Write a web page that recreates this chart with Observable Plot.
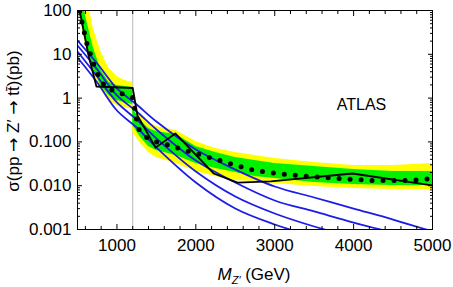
<!DOCTYPE html>
<html><head><meta charset="utf-8">
<script src="https://cdn.jsdelivr.net/npm/d3@7"></script>
<script src="https://cdn.jsdelivr.net/npm/@observablehq/plot@0.6"></script>
<style>body{margin:0;background:#fff}</style>
</head><body><div id="chart"></div>
<script>
// Expected-limit bands (pb)
const bandMass = [500, 600, 700, 800, 900, 1000, 1100, 1200, 1200, 1300, 1400, 1500, 1750, 2000, 2250, 2500, 2750, 3000, 3500, 4000, 4500, 5000];
const yellowHi = [2344, 318, 38.8, 11.0, 4.74, 3.11, 2.52, 2.27, 0.678, 0.401, 0.277, 0.225, 0.182, 0.102, 0.0707, 0.0573, 0.0489, 0.0418, 0.0339, 0.0289, 0.0289, 0.0321];
const greenHi  = [819, 76.9, 14.3, 4.27, 2.27, 1.94, 1.84, 1.75, 0.579, 0.308, 0.202, 0.173, 0.148, 0.0785, 0.0573, 0.0440, 0.0376, 0.0321, 0.0274, 0.0234, 0.0211, 0.0211];
const greenLo  = [144, 20.7, 4.74, 1.84, 1.15, 0.882, 0.794, 0.714, 0.237, 0.126, 0.0785, 0.0637, 0.0489, 0.0321, 0.0247, 0.0200, 0.0162, 0.0146, 0.0118, 0.0106, 0.0101, 0.0101];
const yellowLo = [123, 16.7, 3.64, 1.49, 0.882, 0.678, 0.610, 0.549, 0.164, 0.0919, 0.0573, 0.0440, 0.0321, 0.0211, 0.0162, 0.0132, 0.0125, 0.0112, 0.0096, 0.0086, 0.0082, 0.0082];

// Expected limit (dotted)
const expectedMass = [500, 525, 615, 730, 855, 1020, 1200, 1270, 1390, 1515, 1680, 1830, 2175, 2475, 2745, 3020, 3440, 3820, 4240, 4710, 5000];
const expectedXs   = [170, 100, 18.6, 4.27, 1.75, 1.34, 1.03, 0.20, 0.12, 0.097, 0.083, 0.067, 0.044, 0.0305, 0.0222, 0.019, 0.0162, 0.0146, 0.0131, 0.0131, 0.0146];

// Observed limit (solid black)
const observedMass = [505, 640, 740, 1200, 1260, 1490, 1740, 2225, 2530, 2950, 3985, 5000];
const observedXs   = [160, 9.4, 1.84, 1.70, 0.40, 0.074, 0.156, 0.019, 0.0118, 0.0125, 0.019, 0.0101];

// Theory curves (blue)
const blueMass = [500, 750, 1000, 1250, 1500, 2000, 2500, 3000, 3500, 4000, 4500, 5000];
const blue1 = [20.6, 6.17, 1.66, 0.714, 0.292, 0.0670, 0.0234, 0.0096, 0.00538, 0.00301, 0.00169, 0.00090];
const blue2 = [15.9, 4.50, 1.15, 0.494, 0.192, 0.0376, 0.0118, 0.00459, 0.00258, 0.00144, 0.00085];
const blue3 = [11.6, 3.11, 0.794, 0.324, 0.120, 0.0211, 0.00567, 0.00232, 0.00117, 0.00066];
const blue4 = [8.45, 2.27, 0.521, 0.213, 0.0745, 0.0118, 0.00301, 0.00130, 0.00069];

// Ticks
const xMajor = [1000, 2000, 3000, 4000, 5000];
const xMinor = d3.range(600, 5000, 200).filter(d => d % 1000 !== 0);
const yMajor = [100, 10, 1, 0.1, 0.01, 0.001];
const yTickLabels = ["100", "10", "1", "0.100", "0.010", "0.001"];
const yMinor = [0.001, 0.01, 0.1, 1, 10].flatMap(d => [2,3,4,5,6,7,8,9].map(k => +(k * d).toPrecision(3)));

const bands = bandMass.map((m, i) => ({m, yl: yellowLo[i], yh: yellowHi[i], gl: greenLo[i], gh: greenHi[i]}));
const expected = expectedMass.map((m, i) => ({m, v: expectedXs[i]}));
const observed = observedMass.map((m, i) => ({m, v: observedXs[i]}));
const blueTable = [blue1, blue2, blue3, blue4].flatMap((vals, s) => vals.map((v, i) => ({m: blueMass[i], v, s})));

const font = "'Liberation Sans', Arial, sans-serif";
const plot = Plot.plot({
  width: 453, height: 287,
  marginTop: 10, marginRight: 21, marginBottom: 58, marginLeft: 77,
  style: {fontFamily: font, fontSize: "17px", background: "white", color: "black"},
  x: {domain: [500, 5000], label: null},
  y: {type: "log", domain: [0.001, 100], label: null},
  marks: [
    Plot.ruleX([1200], {stroke: "#b8b8b8", strokeWidth: 1}),
    Plot.areaY(bands, {x: "m", y1: "yl", y2: "yh", fill: "#ffff00", clip: true}),
    Plot.areaY(bands, {x: "m", y1: "gl", y2: "gh", fill: "#00f000", clip: true}),
    Plot.line(blueTable, {x: "m", y: "v", z: "s", stroke: "#1c1ce8", strokeWidth: 1.8, curve: "catmull-rom", clip: true}),
    Plot.line(observed, {x: "m", y: "v", stroke: "black", strokeWidth: 1.8, clip: true}),
    Plot.line(expected, {x: "m", y: "v", stroke: "black", strokeWidth: 5, strokeDasharray: "0 11", strokeLinecap: "round", clip: true}),
    Plot.frame({stroke: "black", strokeWidth: 1}),
    // bottom
    Plot.axisX(xMajor, {anchor: "bottom", tickSize: 0, tickPadding: 9, tickFormat: d => String(d)}),
    Plot.axisX(xMajor, {anchor: "bottom", tickSize: -5, fill: "none"}),
    Plot.axisX(xMinor, {anchor: "bottom", tickSize: -3, fill: "none"}),
    // top
    Plot.axisX(xMajor, {anchor: "top", tickSize: -5, fill: "none"}),
    Plot.axisX(xMinor, {anchor: "top", tickSize: -3, fill: "none"}),
    // left
    Plot.axisY(yMajor, {anchor: "left", tickSize: 0, tickPadding: 6, tickFormat: d => yTickLabels[yMajor.indexOf(d)]}),
    Plot.axisY(yMajor, {anchor: "left", tickSize: -5, fill: "none"}),
    Plot.axisY(yMinor, {anchor: "left", tickSize: -3, fill: "none"}),
    // right
    Plot.axisY(yMajor, {anchor: "right", tickSize: -5, fill: "none"}),
    Plot.axisY(yMinor, {anchor: "right", tickSize: -3, fill: "none"}),
    Plot.text(["ATLAS"], {frameAnchor: "top-right", dx: -71, dy: 88, textAnchor: "middle", fontSize: 16, text: d => d})
  ]
});
document.getElementById("chart").appendChild(plot);

const svg = d3.select(plot);
// y-axis title
const yt = svg.append("text")
  .attr("transform", "translate(19,121) rotate(-90)")
  .attr("text-anchor", "middle")
  .attr("font-family", font).attr("font-size", 17).attr("fill", "black");
const arrow = "'DejaVu Sans', sans-serif";
yt.append("tspan").text("σ(pp ");
yt.append("tspan").attr("font-family", arrow).attr("font-size", 17).text("→");
yt.append("tspan").text(" Z′ ");
yt.append("tspan").attr("font-family", arrow).attr("font-size", 17).text("→");
yt.append("tspan").text(" tt\u0304)(pb)");
// x-axis title
const xt = svg.append("text")
  .attr("x", 254).attr("y", 280)
  .attr("text-anchor", "middle")
  .attr("font-family", font).attr("font-size", 17).attr("fill", "black");
xt.append("tspan").attr("font-style", "italic").text("M");
xt.append("tspan").attr("font-style", "italic").attr("font-size", 11).attr("dy", 4).text("Z′");
xt.append("tspan").attr("dy", -4).text(" (GeV)");
</script>
</body></html>
